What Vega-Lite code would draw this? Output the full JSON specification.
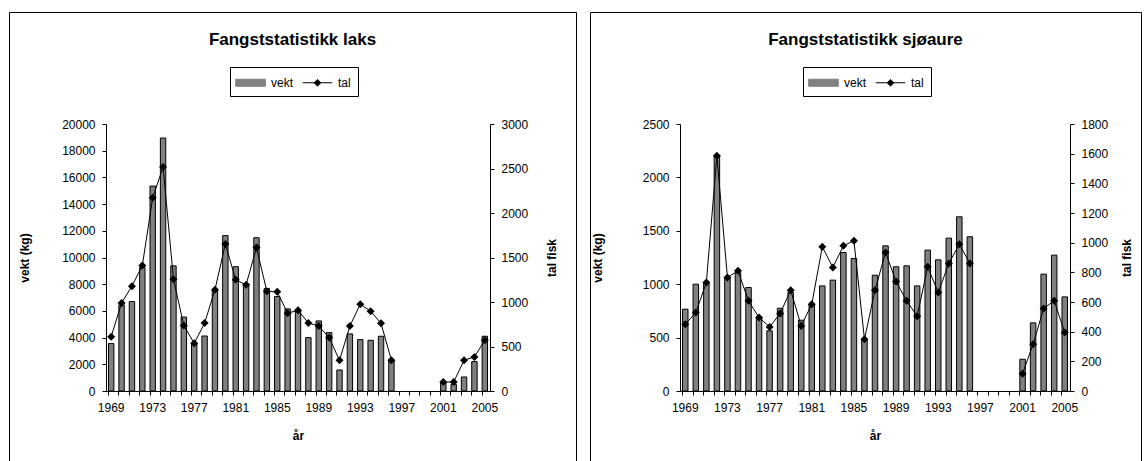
{
  "$schema": "https://vega.github.io/schema/vega-lite/v6.json",
  "padding": {"left": 8, "top": 11, "right": 0, "bottom": 0},
  "background": "white",
  "spacing": 12,
  "datasets": {
    "laks": [
      {"year": 1969, "vekt": 3550, "tal": 610},
      {"year": 1970, "vekt": 6450, "tal": 990},
      {"year": 1971, "vekt": 6700, "tal": 1178},
      {"year": 1972, "vekt": 9250, "tal": 1410},
      {"year": 1973, "vekt": 15350, "tal": 2171},
      {"year": 1974, "vekt": 18950, "tal": 2516},
      {"year": 1975, "vekt": 9375, "tal": 1256},
      {"year": 1976, "vekt": 5540, "tal": 735},
      {"year": 1977, "vekt": 3600, "tal": 536},
      {"year": 1978, "vekt": 4120, "tal": 763},
      {"year": 1979, "vekt": 7600, "tal": 1138},
      {"year": 1980, "vekt": 11640, "tal": 1652},
      {"year": 1981, "vekt": 9310, "tal": 1249},
      {"year": 1982, "vekt": 8020, "tal": 1194},
      {"year": 1983, "vekt": 11480, "tal": 1611},
      {"year": 1984, "vekt": 7675, "tal": 1120},
      {"year": 1985, "vekt": 7075, "tal": 1114},
      {"year": 1986, "vekt": 6150, "tal": 874},
      {"year": 1987, "vekt": 6000, "tal": 907},
      {"year": 1988, "vekt": 4000, "tal": 765},
      {"year": 1989, "vekt": 5250, "tal": 731},
      {"year": 1990, "vekt": 4375, "tal": 600},
      {"year": 1991, "vekt": 1575, "tal": 345},
      {"year": 1992, "vekt": 4275, "tal": 731},
      {"year": 1993, "vekt": 3850, "tal": 975},
      {"year": 1994, "vekt": 3800, "tal": 896},
      {"year": 1995, "vekt": 4100, "tal": 761},
      {"year": 1996, "vekt": 2300, "tal": 345},
      {"year": 1997, "vekt": null, "tal": null},
      {"year": 1998, "vekt": null, "tal": null},
      {"year": 1999, "vekt": null, "tal": null},
      {"year": 2000, "vekt": null, "tal": null},
      {"year": 2001, "vekt": 600, "tal": 101},
      {"year": 2002, "vekt": 500, "tal": 101},
      {"year": 2003, "vekt": 1050, "tal": 345},
      {"year": 2004, "vekt": 2200, "tal": 383},
      {"year": 2005, "vekt": 4100, "tal": 570}
    ],
    "sjoaure": [
      {"year": 1969, "vekt": 766, "tal": 450},
      {"year": 1970, "vekt": 1000, "tal": 529},
      {"year": 1971, "vekt": 1010, "tal": 731},
      {"year": 1972, "vekt": 2203, "tal": 1586},
      {"year": 1973, "vekt": 1063, "tal": 765},
      {"year": 1974, "vekt": 1109, "tal": 810},
      {"year": 1975, "vekt": 969, "tal": 608},
      {"year": 1976, "vekt": 688, "tal": 495},
      {"year": 1977, "vekt": 563, "tal": 432},
      {"year": 1978, "vekt": 775, "tal": 522},
      {"year": 1979, "vekt": 922, "tal": 680},
      {"year": 1980, "vekt": 663, "tal": 439},
      {"year": 1981, "vekt": 813, "tal": 585},
      {"year": 1982, "vekt": 984, "tal": 972},
      {"year": 1983, "vekt": 1038, "tal": 833},
      {"year": 1984, "vekt": 1297, "tal": 979},
      {"year": 1985, "vekt": 1241, "tal": 1013},
      {"year": 1986, "vekt": 484, "tal": 349},
      {"year": 1987, "vekt": 1084, "tal": 680},
      {"year": 1988, "vekt": 1359, "tal": 934},
      {"year": 1989, "vekt": 1163, "tal": 738},
      {"year": 1990, "vekt": 1172, "tal": 608},
      {"year": 1991, "vekt": 984, "tal": 504},
      {"year": 1992, "vekt": 1319, "tal": 837},
      {"year": 1993, "vekt": 1228, "tal": 664},
      {"year": 1994, "vekt": 1431, "tal": 860},
      {"year": 1995, "vekt": 1631, "tal": 990},
      {"year": 1996, "vekt": 1444, "tal": 860},
      {"year": 1997, "vekt": null, "tal": null},
      {"year": 1998, "vekt": null, "tal": null},
      {"year": 1999, "vekt": null, "tal": null},
      {"year": 2000, "vekt": null, "tal": null},
      {"year": 2001, "vekt": 297, "tal": 117},
      {"year": 2002, "vekt": 638, "tal": 315},
      {"year": 2003, "vekt": 1094, "tal": 556},
      {"year": 2004, "vekt": 1272, "tal": 608},
      {"year": 2005, "vekt": 881, "tal": 394}
    ]
  },
  "config": {
    "view": {"stroke": "#000000", "strokeWidth": 1},
    "font": "Liberation Sans",
    "mark": {"invalid": "break-paths-show-domains"},
    "axis": {
      "domainColor": "#000000", "tickColor": "#000000", "labelColor": "#000000", "titleColor": "#000000",
      "labelFont": "Liberation Sans", "labelFontSize": 12, "titleFont": "Liberation Sans", "titleFontSize": 12,
      "titleFontWeight": "bold", "grid": false, "tickSize": 4, "labelPadding": 7
    },
    "title": {"font": "Liberation Sans", "fontSize": 17, "fontWeight": "bold", "color": "#000000"},
    "legend": {
      "labelFont": "Liberation Sans", "labelFontSize": 12, "labelColor": "#000000",
      "title": null, "orient": "none", "direction": "horizontal",
      "strokeColor": "#000000", "padding": 7, "symbolSize": 256, "symbolOffset": 5,
      "labelOffset": 12, "columnPadding": 6, "symbolStrokeWidth": 1,
      "symbolStrokeColor": "#000000", "symbolOpacity": 1
    }
  },
  "resolve": {"scale": {"color": "independent", "shape": "independent"}, "legend": {"color": "independent", "shape": "independent"}},
  "hconcat": [
    {
      "width": 567,
      "height": 449,
      "data": {"name": "laks"},
      "title": {"text": "Fangststatistikk laks", "offset": -37, "anchor": "middle"},
      "encoding": {
        "x": {
          "field": "year", "type": "ordinal",
          "scale": {"range": [97, 481], "paddingInner": 0.48, "paddingOuter": 0.24},
          "axis": {
            "title": "år", "offset": -70, "bandPosition": 0, "labelAngle": 0,
            "labelExpr": "(datum.value - 1969) % 4 === 0 ? datum.label : ''",
            "labelOverlap": false, "labelPadding": 7, "titlePadding": 17
          }
        }
      },
      "layer": [
        {
          "mark": {"type": "bar", "stroke": "#000000", "strokeWidth": 1},
          "encoding": {
            "y": {
              "field": "vekt", "type": "quantitative",
              "scale": {"domain": [0, 20000], "range": [379, 112], "nice": false, "zero": true},
              "axis": {"title": "vekt (kg)", "offset": -97, "values": [0, 2000, 4000, 6000, 8000, 10000, 12000, 14000, 16000, 18000, 20000], "titlePadding": 30, "format": "d"}
            },
            "color": {
              "datum": "vekt",
              "scale": {"domain": ["vekt", "tal"], "range": ["#808080", "#000000"]},
              "legend": {"legendX": 221, "legendY": 55}
            }
          }
        },
        {
          "mark": {"type": "line", "strokeWidth": 1, "point": {"filled": true, "shape": "diamond", "size": 64, "opacity": 1}},
          "encoding": {
            "y": {
              "field": "tal", "type": "quantitative",
              "scale": {"domain": [0, 3000], "range": [379, 112], "nice": false, "zero": true},
              "axis": {"title": "tal fisk", "orient": "right", "offset": -86, "values": [0, 500, 1000, 1500, 2000, 2500, 3000], "titlePadding": 31, "titleAngle": 270, "format": "d"}
            },
            "color": {"datum": "tal", "legend": {"legendX": 221, "legendY": 55}}
          }
        },
        {
          "mark": {"type": "point", "filled": true, "opacity": 0, "size": 256},
          "encoding": {
            "y": {
              "field": "tal", "type": "quantitative",
              "scale": {"domain": [0, 3000], "range": [379, 112], "nice": false, "zero": true},
              "axis": null
            },
            "color": {"datum": "tal", "legend": {"legendX": 221, "legendY": 55}},
            "shape": {
              "datum": "tal",
              "scale": {"domain": ["vekt", "tal"], "range": ["M-1.85,-0.44L1.85,-0.44L1.85,0.44L-1.85,0.44Z", "M-1.85,0L1.85,0M0,-0.42L0.42,0L0,0.42L-0.42,0Z"]},
              "legend": {"legendX": 221, "legendY": 55}
            }
          }
        }
      ],
      "resolve": {"scale": {"y": "independent"}}
    },
    {
      "width": 551,
      "height": 449,
      "data": {"name": "sjoaure"},
      "title": {"text": "Fangststatistikk sjøaure", "offset": -37, "anchor": "middle"},
      "encoding": {
        "x": {
          "field": "year", "type": "ordinal",
          "scale": {"range": [90, 480], "paddingInner": 0.48, "paddingOuter": 0.24},
          "axis": {
            "title": "år", "offset": -70, "bandPosition": 0, "labelAngle": 0,
            "labelExpr": "(datum.value - 1969) % 4 === 0 ? datum.label : ''",
            "labelOverlap": false, "labelPadding": 7, "titlePadding": 17
          }
        }
      },
      "layer": [
        {
          "mark": {"type": "bar", "stroke": "#000000", "strokeWidth": 1},
          "encoding": {
            "y": {
              "field": "vekt", "type": "quantitative",
              "scale": {"domain": [0, 2500], "range": [379, 112], "nice": false, "zero": true},
              "axis": {"title": "vekt (kg)", "offset": -90, "values": [0, 500, 1000, 1500, 2000, 2500], "titlePadding": 38, "format": "d"}
            },
            "color": {
              "datum": "vekt",
              "scale": {"domain": ["vekt", "tal"], "range": ["#808080", "#000000"]},
              "legend": {"legendX": 213, "legendY": 55}
            }
          }
        },
        {
          "mark": {"type": "line", "strokeWidth": 1, "point": {"filled": true, "shape": "diamond", "size": 64, "opacity": 1}},
          "encoding": {
            "y": {
              "field": "tal", "type": "quantitative",
              "scale": {"domain": [0, 1800], "range": [379, 112], "nice": false, "zero": true},
              "axis": {"title": "tal fisk", "orient": "right", "offset": -71, "values": [0, 200, 400, 600, 800, 1000, 1200, 1400, 1600, 1800], "titlePadding": 26, "titleAngle": 270, "format": "d"}
            },
            "color": {"datum": "tal", "legend": {"legendX": 213, "legendY": 55}}
          }
        },
        {
          "mark": {"type": "point", "filled": true, "opacity": 0, "size": 256},
          "encoding": {
            "y": {
              "field": "tal", "type": "quantitative",
              "scale": {"domain": [0, 1800], "range": [379, 112], "nice": false, "zero": true},
              "axis": null
            },
            "color": {"datum": "tal", "legend": {"legendX": 213, "legendY": 55}},
            "shape": {
              "datum": "tal",
              "scale": {"domain": ["vekt", "tal"], "range": ["M-1.85,-0.44L1.85,-0.44L1.85,0.44L-1.85,0.44Z", "M-1.85,0L1.85,0M0,-0.42L0.42,0L0,0.42L-0.42,0Z"]},
              "legend": {"legendX": 213, "legendY": 55}
            }
          }
        }
      ],
      "resolve": {"scale": {"y": "independent"}}
    }
  ]
}
